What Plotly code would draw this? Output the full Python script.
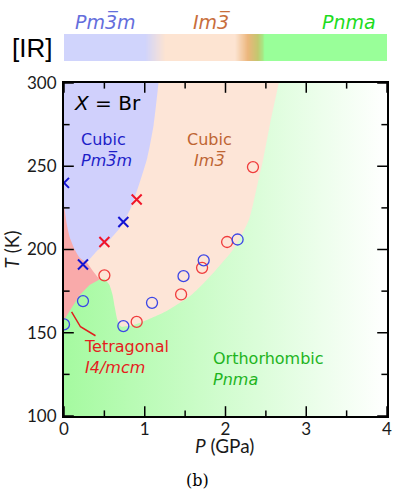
import base64
import struct
import zlib

import numpy as np
import plotly.graph_objects as go

# ---------------- data ----------------
# transition points (pressure in GPa, temperature in K)
blue_cross_P = [0.0, 0.235, 0.735]
blue_cross_T = [240, 191, 216.5]
red_cross_P = [0.50, 0.90]
red_cross_T = [204.5, 230]
red_circle_P = [0.50, 0.90, 1.45, 1.71, 2.02, 2.34]
red_circle_T = [184.5, 156.5, 173, 189, 204.5, 249.5]
blue_circle_P = [0.0, 0.235, 0.735, 1.09, 1.48, 1.73, 2.15]
blue_circle_T = [155, 169, 154, 168, 184, 193.5, 206]

# phase-region outlines (P, T)
im3_P = [0.44, 0.30, 0.25, 0.30, 0.40, 2.70, 2.66, 2.55, 2.47, 2.40, 2.289, 2.106,
         1.862, 1.577, 1.252, 0.927, 0.80, 0.705, 0.66, 0.63, 0.60, 0.56, 0.50]
im3_T = [182, 185, 200, 250, 310, 310, 300, 275, 255, 240, 217.7, 200.7,
         186.7, 172.7, 162.6, 155.7, 154, 153.8, 158, 165, 173, 179, 182.5]
tet_P = [-0.1, 0.0, 0.073, 0.195, 0.316, 0.44, 0.36, 0.277, 0.20, 0.10, -0.1]
tet_T = [150, 157.7, 163.7, 172.7, 178.7, 182, 187, 192.7, 198, 215, 240]
pm3m_P = [-0.1, 1.19, 1.17, 1.11, 1.03, 0.927, 0.826, 0.704, 0.561, 0.399, 0.277,
          0.195, 0.134, 0.073, 0.036, 0.0, -0.05]
pm3m_T = [310, 310, 300, 274.8, 254.8, 238.7, 224.7, 213.7, 205.7, 198.7, 192.7,
          195, 199.8, 207, 214.7, 226.7, 245]

# room-temperature IR phase sequence along pressure (GPa -> colour)
ir_P = [0.0, 1.0, 1.25, 2.12, 2.28, 2.40, 2.47, 2.48, 4.0]
ir_rgb = [(208, 212, 252), (208, 212, 252), (253, 228, 210), (253, 228, 210),
          (236, 182, 124), (196, 200, 112), (165, 235, 135), (153, 255, 153),
          (153, 255, 153)]

# leader line for the tetragonal label
leader_P = [0.094, 0.204, 0.39]
leader_T = [162.6, 153.6, 148.2]

P_range = [0, 4]
T_range = [100, 300]
x_ticks = [0, 1, 2, 3, 4]
y_ticks = [100, 150, 200, 250, 300]
x_minor = [(a + b) / 2 for a, b in zip(x_ticks[:-1], x_ticks[1:])]
y_minor = [(a + b) / 2 for a, b in zip(y_ticks[:-1], y_ticks[1:])]


def png_data_uri(rgb):
    """Encode an (h, w, 3) uint8 array as a PNG data URI."""
    h, w, _ = rgb.shape
    raw = b"".join(b"\x00" + rgb[i].tobytes() for i in range(h))

    def chunk(tag, data):
        return (struct.pack(">I", len(data)) + tag + data
                + struct.pack(">I", zlib.crc32(tag + data) & 0xFFFFFFFF))

    png = (b"\x89PNG\r\n\x1a\n"
           + chunk(b"IHDR", struct.pack(">IIBBBBB", w, h, 8, 2, 0, 0, 0))
           + chunk(b"IDAT", zlib.compress(raw, 9))
           + chunk(b"IEND", b""))
    return "data:image/png;base64," + base64.b64encode(png).decode()


# ---------------- figure ----------------
fig = go.Figure()

# Pnma background: green fading to white with pressure
fig.add_trace(go.Scatter(
    x=[P_range[0], P_range[1], P_range[1], P_range[0]],
    y=[T_range[0], T_range[0], T_range[1], T_range[1]],
    mode="lines", fill="toself", line=dict(width=0),
    fillgradient=dict(type="horizontal",
                      colorscale=[[0, "rgb(165,250,160)"], [1, "rgb(255,255,255)"]]),
    hoverinfo="none", showlegend=False))

def region(px, pt, color, shape="spline"):
    fig.add_trace(go.Scatter(
        x=px, y=pt, mode="lines", fill="toself", fillcolor=color,
        line=dict(width=0, shape=shape, smoothing=0.6),
        hoverinfo="none", showlegend=False))

region(im3_P, im3_T, "rgb(253,229,215)")
region(tet_P, tet_T, "rgb(249,170,170)", shape="linear")
region(pm3m_P, pm3m_T, "rgb(208,208,252)")

fig.add_trace(go.Scatter(x=leader_P, y=leader_T, mode="lines",
                         line=dict(color="rgb(225,30,30)", width=1.5),
                         hoverinfo="none", showlegend=False))

def markers(px, pt, symbol, color, size, lw):
    fig.add_trace(go.Scatter(
        x=px, y=pt, mode="markers",
        marker=dict(symbol=symbol, size=size, color=color,
                    line=dict(color=color, width=lw)),
        hoverinfo="none", showlegend=False))

markers(red_circle_P, red_circle_T, "circle-open", "rgb(240,60,60)", 11, 1.3)
markers(blue_circle_P, blue_circle_T, "circle-open", "rgb(60,70,230)", 11, 1.3)
markers(blue_cross_P, blue_cross_T, "x-thin-open", "rgb(20,20,210)", 10, 2)
markers(red_cross_P, red_cross_T, "x-thin-open", "rgb(240,20,40)", 10, 2)

# inward tick marks on all four sides: a centred dash on each frame edge,
# with the outer half clipped away by the plot area
MAJOR_LEN, MINOR_LEN = 7, 4
for vals, length in ((x_ticks, MAJOR_LEN), (x_minor, MINOR_LEN)):
    for edge in T_range:
        markers(vals, [edge] * len(vals), "line-ns-open", "black", 2 * length, 1.5)
for vals, length in ((y_ticks, MAJOR_LEN), (y_minor, MINOR_LEN)):
    for edge in P_range:
        markers([edge] * len(vals), vals, "line-ew-open", "black", 2 * length, 1.5)

# IR strip above the diagram, spanning the same pressure range as the x axis
strip_p = np.linspace(P_range[0], P_range[1], 400)
ir_arr = np.array(ir_rgb, dtype=float)
strip_row = np.stack([np.interp(strip_p, ir_P, ir_arr[:, c]) for c in range(3)], axis=-1)
strip_img = np.round(strip_row[None, :, :]).astype(np.uint8)

H = 490 - 34 - 74
fig.add_layout_image(dict(source=png_data_uri(strip_img), xref="paper", yref="paper",
                          x=0, y=1, sizex=1, sizey=27 / H, sizing="stretch",
                          xanchor="left", yanchor="top", layer="above"))

tick_font = dict(family="Lato", size=17, color="#1a1a1a")
title_font = dict(family="Lato", size=19, color="#1a1a1a")
axis_common = dict(showline=True, linecolor="black", linewidth=2, mirror=True,
                   ticks="", showgrid=False, zeroline=False, tickfont=tick_font,
                   layer="above traces")

fig.update_layout(
    width=397, height=490,
    margin=dict(l=64, r=5, t=34, b=74),
    paper_bgcolor="white", plot_bgcolor="white",
    showlegend=False,
    xaxis=dict(range=P_range, tickvals=x_ticks, ticklabelstandoff=-3, **axis_common),
    yaxis=dict(range=T_range, tickvals=y_ticks, domain=[0, 333 / H],
               ticklabelstandoff=2,
               title=dict(text="<i>T</i> (K)", standoff=6, font=title_font),
               **axis_common),
)

ann_font = "DejaVu Sans"
def label(x, y, text, color, size=16, xanchor="left", align="left", xref="x", yref="y",
          family=ann_font):
    fig.add_annotation(x=x, y=y, xref=xref, yref=yref, text=text, showarrow=False,
                       xanchor=xanchor, yanchor="middle", align=align,
                       font=dict(family=family, size=size, color=color))

label(0.10, 288, "<i>X</i> = Br", "black", size=20)
label(0.19, 260, "Cubic<br><i>Pm3\u0305m</i>", "rgb(30,30,200)")
label(1.80, 260, "Cubic<br><i>Im3\u0305</i>", "rgb(190,100,50)",
      xanchor="center", align="center")
label(0.22, 135.3, "Tetragonal<br><i>I4/mcm</i>", "rgb(228,30,30)")
label(1.82, 128, "Orthorhombic<br><i>Pnma</i>", "rgb(30,180,30)")

# strip labels
label(0.52, 1.032, "<i>Pm3\u0305m</i>", "rgb(100,110,220)", size=19,
      xanchor="center", yref="paper")
label(1.83, 1.032, "<i>Im3\u0305</i>", "rgb(200,110,60)", size=19,
      xanchor="center", yref="paper")
label(3.53, 1.032, "<i>Pnma</i>", "rgb(30,220,30)", size=19,
      xanchor="center", yref="paper")
label(-0.099, 0.964, "[IR]", "black", size=26, xanchor="center",
      xref="paper", yref="paper", family="Liberation Sans")

# x-axis title
label(0.497, (416 - 446) / H, "<i>P</i> (GPa)", "#1a1a1a", size=19, xanchor="center",
      xref="paper", yref="paper", family="Lato")

# panel tag
fig.add_annotation(x=(200 - 64) / 328, y=(416 - 480) / H, xref="paper", yref="paper",
                   text="(b)", showarrow=False, xanchor="center", yanchor="middle",
                   font=dict(family="DejaVu Serif", size=16, color="black"))

fig.write_html("out.html")
